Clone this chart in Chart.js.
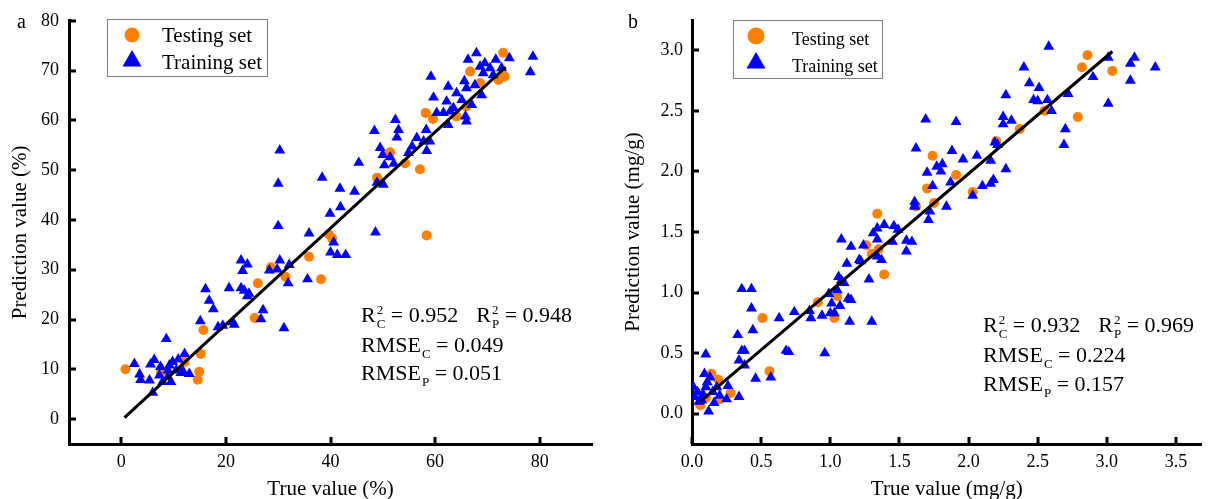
<!DOCTYPE html>
<html>
<head>
<meta charset="utf-8">
<script src="https://cdn.jsdelivr.net/npm/chart.js@4.4.0/dist/chart.umd.min.js"></script>
<style>
  body { margin: 0; background: #fff; }
  .panel { position: absolute; top: 0; width: 604px; height: 499px; }
</style>
</head>
<body>
<div class="panel" style="left:0"><canvas id="chartA" width="604" height="499"></canvas></div>
<div class="panel" style="left:604px"><canvas id="chartB" width="604" height="499"></canvas></div>
<script>
// ---- panel a: values in %
const testA_true = [0.8, 7.6, 12.1, 15.2, 14.9, 14.6, 15.7, 26.1, 25.5, 28.6, 31.4, 35.9, 38.2, 39.7, 40.3, 48.9, 51.4, 54.3, 57.1, 58.4, 58.2, 59.6, 64.1, 66.0, 68.6, 66.7, 72.1, 73.3, 73.0];
const testA_pred = [10.0, 9.5, 11.5, 13.1, 9.5, 7.9, 17.9, 27.3, 20.3, 30.5, 28.6, 32.6, 28.1, 37.1, 36.3, 48.5, 53.6, 51.4, 50.2, 36.9, 61.5, 60.3, 60.8, 62.8, 67.5, 69.8, 68.1, 68.8, 73.6];
const trainA_true = [2.5, 3.5, 3.7, 5.4, 5.6, 6.3, 6.0, 8.6, 7.3, 7.9, 8.9, 9.2, 9.8, 10.5, 11.4, 12.1, 13.0, 8.9, 9.5, 10.9,
  11.8, 7.5, 15.1, 16.1, 16.8, 17.6, 18.5, 19.4, 20.6, 21.3, 21.6, 22.9, 24.1, 23.2, 22.9, 23.5, 24.1, 24.4, 26.7, 27.1,
  28.3, 29.8, 30.0, 30.3, 30.0, 30.3, 31.1, 31.9, 32.1, 35.6, 35.9, 38.4, 39.9, 40.0, 40.6, 41.3, 42.9, 41.9, 41.8, 44.6,
  45.4, 48.6, 48.9, 50.1, 48.4, 49.5, 50.0, 50.3, 51.4, 52.1, 52.4, 53.0, 52.7, 54.9, 55.6, 56.5, 57.8, 58.3, 58.4, 59.0,
  59.2, 59.7, 60.3, 61.6, 62.5, 62.9, 62.2, 62.5, 63.5, 64.1, 65.1, 65.6, 65.8, 66.0, 66.0, 66.3, 67.0, 67.6, 67.9, 68.6,
  68.9, 69.2, 69.5, 70.5, 71.1, 71.6, 72.7, 74.2, 78.2, 78.7];
const trainA_pred = [11.1, 9.0, 7.9, 7.8, 11.0, 11.9, 5.3, 16.1, 8.8, 7.5, 8.5, 10.8, 11.5, 9.8, 9.3, 13.1, 9.1, 9.8, 7.5, 12.0,
  9.6, 10.5, 19.7, 26.1, 23.8, 22.1, 18.5, 18.8, 26.3, 19.5, 19.0, 31.9, 31.1, 29.8, 26.3, 25.8, 24.7, 25.2, 20.1, 21.9,
  29.9, 30.1, 38.8, 31.9, 47.3, 54.0, 18.3, 27.3, 31.0, 28.1, 37.3, 48.5, 41.3, 33.5, 35.5, 33.0, 33.0, 42.6, 46.3, 45.7,
  51.5, 37.5, 47.5, 47.1, 57.9, 54.5, 53.1, 51.0, 52.6, 51.3, 60.1, 58.1, 56.6, 53.5, 54.8, 56.5, 55.8, 58.1, 53.9, 55.8,
  68.8, 64.6, 61.5, 61.5, 59.1, 61.8, 63.8, 66.8, 62.5, 65.5, 64.1, 67.9, 60.8, 59.8, 66.5, 72.2, 63.1, 67.1, 73.5, 70.8,
  65.1, 69.5, 71.5, 70.5, 69.1, 72.2, 70.5, 72.5, 69.7, 72.8];
const fitA_true = [0.6, 73.5];
const fitA_pred = [0.3, 70.7];
const xTicksA = [0, 20, 40, 60, 80];
const yTicksA = [0, 10, 20, 30, 40, 50, 60, 70, 80];
const statsA = ['0.952', '0.948', '0.049', '0.051'];

// ---- panel b: values in mg/g
const testB_true = [0.06, 0.10, 0.14, 0.19, 0.20, 0.28, 0.51, 0.56, 0.91, 1.03, 1.05, 1.26, 1.30, 1.35, 1.39, 1.34, 1.74, 1.70, 1.91, 2.03, 1.75, 1.62, 2.20, 2.37, 2.55, 2.79, 2.82, 2.86, 3.04];
const testB_pred = [0.07, 0.13, 0.33, 0.28, 0.12, 0.17, 0.79, 0.35, 0.92, 0.79, 0.97, 1.39, 1.32, 1.36, 1.15, 1.65, 2.13, 1.86, 1.97, 1.83, 1.74, 1.71, 2.25, 2.35, 2.50, 2.45, 2.86, 2.96, 2.83];
const trainB_true = [0.10, 0.01, 0.02, 0.09, 0.13, 0.10, 0.15, 0.12, 0.16, 0.07, 0.25, 0.26, 0.34, 0.36, 0.43, 0.43, 0.44, 0.33, 0.36, 0.38,
  0.34, 0.38, 0.46, 0.57, 0.63, 0.68, 0.70, 0.74, 0.85, 0.86, 0.96, 0.94, 0.99, 1.01, 1.00, 1.03, 1.07, 1.08, 1.05, 1.13,
  1.14, 1.15, 1.06, 1.12, 1.15, 1.08, 1.10, 1.21, 1.22, 1.28, 1.30, 1.31, 1.34, 1.34, 1.39, 1.46, 1.37, 1.34, 1.55, 1.59,
  1.55, 1.45, 1.61, 1.24, 0.04, 0.05, 0.08, 0.11, 0.18, 0.20,
  2.58, 2.40, 2.44, 2.51, 2.47, 2.50, 2.57, 2.60, 2.72, 2.90, 3.01, 3.20, 3.17, 3.35, 3.17, 3.01, 2.70, 2.69, 2.27, 2.25,
  2.31, 2.25, 2.19, 2.21, 1.69, 1.91, 1.62, 1.88, 1.96, 2.06, 2.16, 2.27, 2.18, 2.16, 2.10, 2.03, 1.81, 1.77, 1.70, 1.80,
  1.87, 1.74, 1.84, 1.61, 1.61, 1.72, 1.71, 1.49];
const trainB_pred = [0.49, 0.22, 0.14, 0.33, 0.30, 0.22, 0.18, 0.02, 0.09, 0.11, 0.12, 0.23, 0.14, 1.03, 1.03, 0.87, 0.69, 0.65, 0.52, 0.52,
  0.44, 0.40, 0.29, 0.30, 0.79, 0.52, 0.51, 0.84, 0.85, 0.79, 0.50, 0.81, 0.99, 0.91, 0.83, 0.83, 0.89, 1.10, 1.02, 0.95,
  0.76, 0.94, 1.13, 1.24, 1.38, 1.44, 1.08, 1.27, 1.26, 1.11, 0.76, 1.49, 1.44, 1.53, 1.56, 1.55, 1.27, 1.30, 1.34, 1.42,
  1.43, 1.42, 1.72, 1.39, 0.18, 0.10, 0.16, 0.26, 0.22, 0.15,
  3.03, 2.86, 2.73, 2.69, 2.59, 2.58, 2.59, 2.50, 2.64, 2.78, 2.94, 2.94, 2.89, 2.86, 2.75, 2.56, 2.35, 2.22, 2.63, 2.45,
  2.42, 2.39, 2.24, 2.22, 2.43, 2.41, 2.19, 2.17, 2.10, 2.13, 2.09, 2.02, 1.93, 1.90, 1.88, 1.80, 2.06, 2.04, 1.99, 2.00,
  1.91, 1.88, 1.71, 1.75, 1.71, 1.67, 1.60, 1.52];
const fitB_true = [0.06, 3.04];
const fitB_pred = [0.10, 2.99];
const xTicksB = [0, 0.5, 1.0, 1.5, 2.0, 2.5, 3.0, 3.5];
const yTicksB = [0, 0.5, 1.0, 1.5, 2.0, 2.5, 3.0];
const statsB = ['0.932', '0.969', '0.224', '0.157'];

const serif = '"Liberation Serif", "Times New Roman", serif';
Chart.defaults.font.family = serif;
Chart.defaults.color = '#000';

function pts(xs, ys) {
  return xs.map((x, i) => ({ x: x, y: ys[i] }));
}

// tick marks pointing into the plot, like the original figure
const innerTicks = {
  id: 'innerTicks',
  afterDraw(chart) {
    const ctx = chart.ctx, area = chart.chartArea, x = chart.scales.x, y = chart.scales.y;
    ctx.save();
    ctx.strokeStyle = '#000';
    ctx.lineWidth = 3;
    ctx.beginPath();
    x.ticks.forEach(t => {
      const p = Math.round(x.getPixelForValue(t.value));
      ctx.moveTo(p, area.bottom);
      ctx.lineTo(p, area.bottom - 7);
    });
    y.ticks.forEach(t => {
      const p = Math.round(y.getPixelForValue(t.value));
      ctx.moveTo(area.left, p);
      ctx.lineTo(area.left + 7, p);
    });
    ctx.stroke();
    ctx.restore();
  }
};

// boxed legend + panel letter + statistics text
function decorations(cfg) {
  return {
    id: 'decor',
    afterDraw(chart) {
      const ctx = chart.ctx;
      ctx.save();
      // legend box
      const L = cfg.legend;
      ctx.strokeStyle = '#808080';
      ctx.lineWidth = 1;
      ctx.strokeRect(L.x + 0.5, L.y + 0.5, L.w, L.h);
      [0, 1].forEach(i => {
        const ds = chart.data.datasets[i];
        ctx.fillStyle = ds.backgroundColor;
        Chart.helpers.drawPoint(ctx, { pointStyle: ds.pointStyle, radius: L.radii[i], borderWidth: 0, rotation: 0 }, L.mx, L.my[i]);
        ctx.fillStyle = '#000';
        ctx.font = L.size + 'px ' + serif;
        ctx.textBaseline = 'alphabetic';
        ctx.textAlign = 'left';
        ctx.fillText(ds.label, L.tx, L.base[i]);
      });

      // panel letter
      ctx.font = '20px ' + serif;
      ctx.fillText(cfg.letter, cfg.letterX, 28);

      // statistics
      const S = cfg.stats;
      const big = S.size + 'px ' + serif, small = Math.round(S.size * 0.6) + 'px ' + serif;
      const sym = (base, sup, sub, x, y) => {
        ctx.font = big;
        ctx.fillText(base, x, y);
        x += ctx.measureText(base).width;
        ctx.font = small;
        let w = ctx.measureText(sub).width;
        if (sup) {
          ctx.fillText(sup, x + 1, y - S.size * 0.38);
          w = Math.max(w, ctx.measureText(sup).width);
        }
        ctx.fillText(sub, x + 1, y + S.size * 0.25);
        return x + w + 1;
      };
      const plain = (t, x, y) => {
        ctx.font = big;
        ctx.fillText(t, x, y);
        return x + ctx.measureText(t).width;
      };
      let cx = sym('R', '2', 'C', S.x, S.base[0]);
      cx = plain(' = ' + S.vals[0], cx, S.base[0]);
      cx = sym('R', '2', 'P', cx + S.gap, S.base[0]);
      plain(' = ' + S.vals[1], cx, S.base[0]);
      cx = sym('RMSE', '', 'C', S.x, S.base[1]);
      plain(' = ' + S.vals[2], cx, S.base[1]);
      cx = sym('RMSE', '', 'P', S.x, S.base[2]);
      plain(' = ' + S.vals[3], cx, S.base[2]);
      ctx.restore();
    }
  };
}

function makeChart(id, p) {
  return new Chart(document.getElementById(id), {
    type: 'scatter',
    data: {
      datasets: [{
        label: 'Testing set',
        data: pts(p.testX, p.testY),
        pointStyle: 'circle',
        pointRadius: 5,
        backgroundColor: '#ff8000',
        borderWidth: 0,
        order: 2
      }, {
        label: 'Training set',
        data: pts(p.trainX, p.trainY),
        pointStyle: 'triangle',
        pointRadius: 6.3,
        backgroundColor: '#0000ff',
        borderColor: '#0000ff',
        borderWidth: 0,
        order: 1
      }, {
        type: 'line',
        label: 'fit',
        data: pts(p.fitX, p.fitY),
        borderColor: '#000',
        borderWidth: 3,
        pointRadius: 0,
        fill: false,
        order: 0
      }]
    },
    options: {
      responsive: false,
      animation: false,
      events: [],
      layout: { padding: { left: 0, top: 20, right: p.padRight, bottom: 0 } },
      plugins: { legend: { display: false }, tooltip: { enabled: false } },
      scales: {
        x: {
          type: 'linear',
          min: p.xMin,
          max: p.xMax,
          afterBuildTicks: s => { s.ticks = p.xTicks.map(v => ({ value: v })); },
          afterFit: s => { s.height = 55; },
          grid: { display: false, drawTicks: false },
          border: { color: '#000', width: 3 },
          ticks: { color: '#000', font: { size: 18 }, padding: 7, maxRotation: 0, callback: p.fmt },
          title: { display: true, text: p.xTitle, color: '#000', font: { size: 21 }, padding: { top: 0, bottom: -3 } }
        },
        y: {
          type: 'linear',
          min: p.yMin,
          max: p.yMax,
          afterBuildTicks: s => { s.ticks = p.yTicks.map(v => ({ value: v })); },
          afterFit: s => { s.width = p.yWidth; },
          grid: { display: false, drawTicks: false },
          border: { color: '#000', width: 3 },
          ticks: { color: '#000', font: { size: 18 }, padding: p.yPad, callback: p.fmt },
          title: { display: true, text: p.yTitle, color: '#000', font: { size: 21 }, padding: { top: p.yTitlePad, bottom: 0 } }
        }
      }
    },
    plugins: [innerTicks, decorations(p.decor)]
  });
}

makeChart('chartA', {
  testX: testA_true, testY: testA_pred, trainX: trainA_true, trainY: trainA_pred, fitX: fitA_true, fitY: fitA_pred,
  xMin: -10, xMax: 90, yMin: -5, yMax: 80, xTicks: xTicksA, yTicks: yTicksA,
  fmt: v => String(v), padRight: 12, yWidth: 69, yPad: 10, yTitlePad: 8,
  xTitle: 'True value (%)', yTitle: 'Prediction value (%)',
  decor: {
    letter: 'a', letterX: 17,
    legend: { x: 107, y: 19, w: 160, h: 57, mx: 132, my: [35, 61], radii: [7.5, 11], tx: 162, base: [42, 69], size: 21 },
    stats: { x: 361, base: [322, 352, 380], size: 22, gap: 18, vals: statsA }
  }
});

makeChart('chartB', {
  testX: testB_true, testY: testB_pred, trainX: trainB_true, trainY: trainB_pred, fitX: fitB_true, fitY: fitB_pred,
  xMin: 0, xMax: 3.686, yMin: -0.25, yMax: 3.25, xTicks: xTicksB, yTicks: yTicksB,
  fmt: v => v.toFixed(1), padRight: 0, yWidth: 88, yPad: 9, yTitlePad: 17,
  xTitle: 'True value (mg/g)', yTitle: 'Prediction value (mg/g)',
  decor: {
    letter: 'b', letterX: 24,
    legend: { x: 129, y: 20, w: 149, h: 58, mx: 152, my: [36, 63], radii: [8.5, 11], tx: 188, base: [45, 72], size: 18 },
    stats: { x: 379, base: [332, 362, 391], size: 22, gap: 18, vals: statsB }
  }
});
</script>
</body>
</html>
